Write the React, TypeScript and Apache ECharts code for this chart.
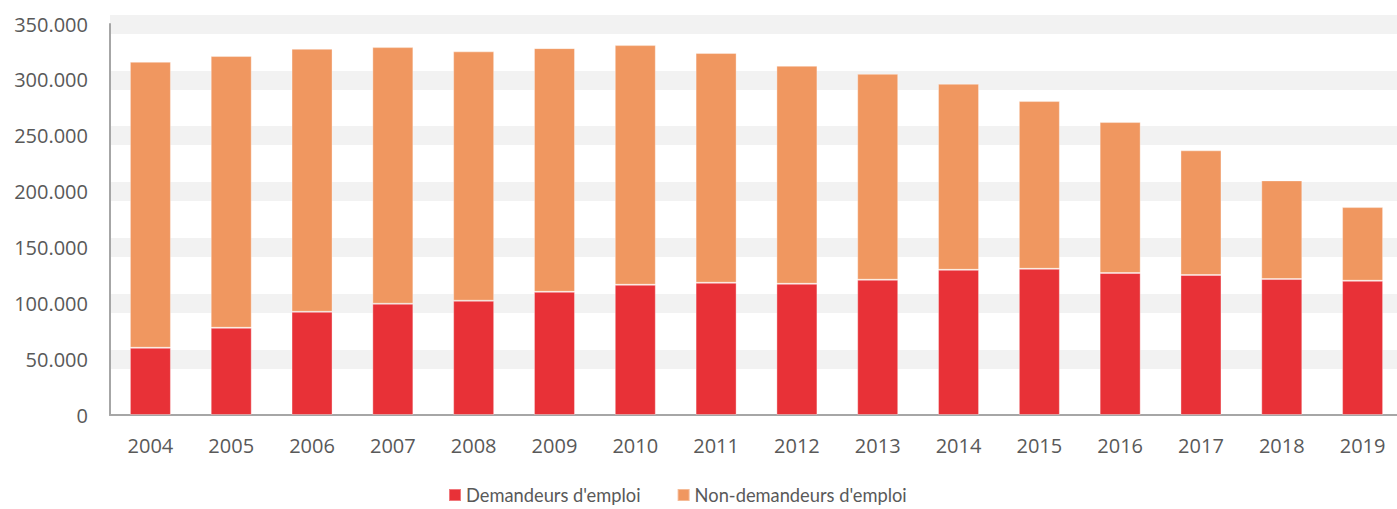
import React, { useEffect, useRef } from "react";
import * as echarts from "echarts";

const years = ["2004","2005","2006","2007","2008","2009","2010","2011","2012","2013","2014","2015","2016","2017","2018","2019"];
const demandeurs = [60200, 78100, 92400, 99600, 102300, 110300, 116600, 118400, 117500, 121100, 130000, 130900, 127100, 125300, 121700, 120200];
const totals = [316200, 321300, 327800, 329300, 325500, 328400, 331100, 324000, 312600, 305400, 296500, 281000, 262200, 236900, 210000, 186100];
const nonDemandeurs = totals.map((t, i) => t - demandeurs[i]);

const fmt = (v: number) => {
  if (v === 0) return "0";
  const s = String(Math.round(v));
  return s.replace(/\B(?=(\d{3})+(?!\d))/g, ".");
};

export default function App() {
  const ref = useRef<HTMLDivElement>(null);
  useEffect(() => {
    document.body.style.margin = "0";
    const chart = echarts.init(ref.current!, undefined, { renderer: "svg" });
    const font = "'Open Sans', sans-serif";
    chart.setOption({
      animation: false,
      backgroundColor: "#ffffff",
      textStyle: { fontFamily: font },
      grid: { left: 110, top: 24, width: 1293, bottom: 94, containLabel: false },
      legend: {
        left: 448,
        top: 486,
        padding: 0,
        itemWidth: 12,
        itemHeight: 12,
        itemGap: 36,
        icon: "rect",
        textStyle: { fontSize: 18.3, color: "#595959", fontFamily: "Lato, sans-serif" },
        data: ["Demandeurs d'emploi", "Non-demandeurs d'emploi"],
      },
      xAxis: {
        type: "category",
        data: years,
        axisLine: { show: true, lineStyle: { color: "#a6a6a6", width: 2 } },
        axisTick: { show: false },
        axisLabel: { fontSize: 20, color: "#595959", margin: 20, fontFamily: font },
        splitLine: { show: false },
      },
      yAxis: {
        type: "value",
        min: 0,
        max: 350000,
        interval: 50000,
        axisLine: { show: true, lineStyle: { color: "#a6a6a6", width: 2 } },
        axisTick: { show: false },
        axisLabel: { fontSize: 20, color: "#595959", margin: 22, formatter: (v: number) => fmt(v), fontFamily: font },
        splitLine: { show: true, showMinLine: false, lineStyle: { color: "#f2f2f2", width: 19 } },
      },
      series: [
        {
          name: "Demandeurs d'emploi",
          type: "bar",
          stack: "total",
          barWidth: 41,
          data: demandeurs,
          itemStyle: { color: "#e83137", borderColor: "rgba(255,255,255,0.35)", borderWidth: 1 },
        },
        {
          name: "Non-demandeurs d'emploi",
          type: "bar",
          stack: "total",
          barWidth: 41,
          data: nonDemandeurs,
          itemStyle: { color: "#f09760", borderColor: "rgba(255,255,255,0.35)", borderWidth: 1 },
        },
      ],
    });
    return () => chart.dispose();
  }, []);
  return (
    <div style={{ width: 1397, height: 509, overflow: "hidden", position: "relative" }}>
      <div ref={ref} style={{ width: 1420, height: 509, position: "absolute", left: 0, top: 0 }} />
    </div>
  );
}
